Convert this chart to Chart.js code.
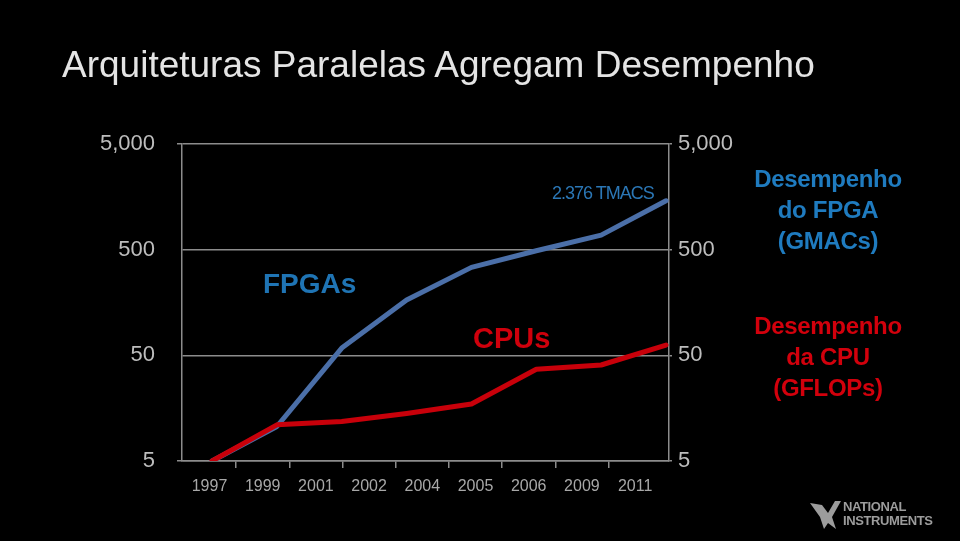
<!DOCTYPE html>
<html>
<head>
<meta charset="utf-8">
<script src="https://cdn.jsdelivr.net/npm/chart.js@4.4.1/dist/chart.umd.min.js"></script>
<style>
  html, body { margin: 0; padding: 0; background: #000; }
  body { width: 960px; height: 541px; position: relative; overflow: hidden; font-family: "Liberation Sans", Arial, sans-serif; }
  #chart { position: absolute; left: 0; top: 0; }
  .txt { position: absolute; white-space: nowrap; }
  #title { left: 62px; top: 46px; font-size: 37px; line-height: 37px; color: #e4e4e4; }
  #fpgaLbl { left: 263px; top: 270px; font-size: 28px; line-height: 28px; font-weight: bold; color: #1f74b4; }
  #cpuLbl { left: 473px; top: 324px; font-size: 29px; line-height: 29px; font-weight: bold; color: #cf000c; }
  #tmacs { left: 552px; top: 184px; font-size: 18px; line-height: 18px; letter-spacing: -1px; color: #2b77b6; }
  .side { width: 200px; left: 728px; text-align: center; font-size: 24px; line-height: 31px; font-weight: bold; letter-spacing: -0.3px; }
  #fpgaSide { top: 163px; color: #1f7bbf; }
  #cpuSide { top: 310px; color: #d2000c; }
  #logo { left: 808px; top: 497px; color: #9c9c9c; }
  #logo svg { position: absolute; left: 0; top: 2px; }
  #logo div { position: absolute; left: 35px; font-weight: bold; font-size: 13px; line-height: 13px; letter-spacing: -0.4px; }
</style>
</head>
<body>
<canvas id="chart" width="960" height="541"></canvas>
<div class="txt" id="title">Arquiteturas Paralelas Agregam Desempenho</div>
<div class="txt" id="fpgaLbl">FPGAs</div>
<div class="txt" id="cpuLbl">CPUs</div>
<div class="txt" id="tmacs">2.376 TMACS</div>
<div class="txt side" id="fpgaSide">Desempenho<br>do FPGA<br>(GMACs)</div>
<div class="txt side" id="cpuSide">Desempenho<br>da CPU<br>(GFLOPs)</div>
<div class="txt" id="logo">
  <svg width="34" height="32" viewBox="0 0 34 32"><path d="M2 4 L14 6 L20 14 L27 2 L33 2 L24 18 L28 30 L20 24 L16 30 L12 18 Z" fill="#9c9c9c"/></svg>
  <div style="top:3px">NATIONAL</div>
  <div style="top:17px">INSTRUMENTS</div>
</div>
<script>
// --- Data ---
const years = ['1997', '1999', '2001', '2002', '2004', '2005', '2006', '2009', '2011'];
const fpgaGmacs = [5, 10.6, 58.6, 167, 340, 488, 687, 1452];
const cpuGflops = [5, 11.0, 11.8, 14.1, 17.3, 36.9, 40.5, 62.6];
const yTicks = [5, 50, 500, 5000];

const GRID = '#8c8c8c';
const TICK_TXT = '#bdbdbd';

Chart.defaults.font.family = '"Liberation Sans", Arial, sans-serif';

const toPoints = arr => arr.map((v, i) => ({ x: i, y: v }));
const setTicks = scale => { scale.ticks = yTicks.map(v => ({ value: v })); };
const fmt = v => Number(v).toLocaleString('en-US');

// --- Chart ---
const ctx = document.getElementById('chart').getContext('2d');
const chart = new Chart(ctx, {
  type: 'line',
  data: {
    datasets: [
      {
        label: 'CPU (GFLOPs)',
        data: toPoints(cpuGflops),
        borderColor: '#c8000a',
        xAxisID: 'xd',
        yAxisID: 'y',
        order: 0
      },
      {
        label: 'FPGA (GMACs)',
        data: toPoints(fpgaGmacs),
        borderColor: '#4b6fa8',
        xAxisID: 'xd',
        yAxisID: 'y',
        order: 1
      }
    ]
  },
  options: {
    responsive: false,
    animation: false,
    layout: { padding: { top: 144, left: 0, right: 0, bottom: 0 } },
    elements: {
      line: { borderWidth: 5, tension: 0, borderJoinStyle: 'round', borderCapStyle: 'round' },
      point: { radius: 0 }
    },
    plugins: { legend: { display: false }, tooltip: { enabled: false } },
    scales: {
      // hidden axis that places the data points
      xd: {
        type: 'linear',
        position: 'bottom',
        display: false,
        min: -0.463,
        max: 7.046
      },
      // visible year labels
      x: {
        type: 'linear',
        position: 'bottom',
        min: -0.517,
        max: 8.637,
        afterBuildTicks: s => { s.ticks = years.map((_, i) => ({ value: i })); },
        afterFit: s => { s.height = 80; },
        ticks: {
          autoSkip: false,
          maxRotation: 0,
          padding: 9,
          color: '#a8a8a8',
          font: { size: 16 },
          callback: v => years[v]
        },
        grid: {
          offset: true,
          drawOnChartArea: false,
          drawTicks: true,
          tickLength: 7,
          lineWidth: 1.5,
          tickColor: c => (c.index === undefined || c.index === 0) ? 'transparent' : GRID
        },
        border: { color: GRID, width: 1.5 }
      },
      y: {
        type: 'logarithmic',
        position: 'left',
        min: 5,
        max: 5000,
        afterBuildTicks: setTicks,
        afterFit: s => { s.width = 182; },
        ticks: { color: TICK_TXT, font: { size: 22 }, padding: 22, callback: fmt },
        grid: {
          color: GRID,
          lineWidth: 1.5,
          tickLength: 5,
          tickColor: c => (c.tick && (c.tick.value === 5 || c.tick.value === 5000)) ? GRID : 'transparent'
        },
        border: { color: GRID, width: 1.5 }
      },
      y2: {
        type: 'logarithmic',
        position: 'right',
        min: 5,
        max: 5000,
        afterBuildTicks: setTicks,
        afterFit: s => { s.width = 291; },
        ticks: { color: TICK_TXT, font: { size: 22 }, padding: 6, callback: fmt },
        grid: { drawOnChartArea: false, tickLength: 3, color: GRID, lineWidth: 1.5 },
        border: { color: GRID, width: 1.5 }
      }
    }
  }
});
</script>
</body>
</html>
